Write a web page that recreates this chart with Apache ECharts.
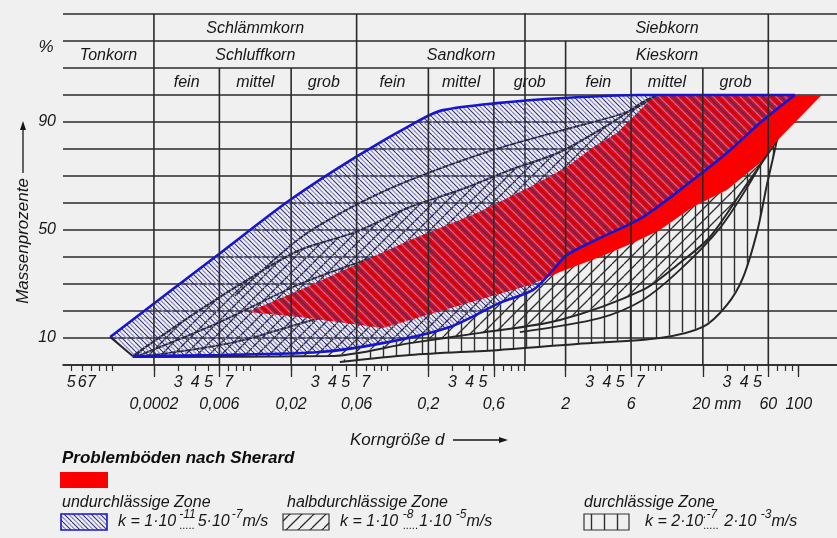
<!DOCTYPE html>
<html>
<head>
<meta charset="utf-8">
<title>Körnungsbereiche und Durchlässigkeit</title>
<script src="https://cdn.jsdelivr.net/npm/echarts@6/dist/echarts.min.js"></script>
<style>
html, body { margin: 0; padding: 0; background: #f0f0f0; }
#main { width: 837px; height: 538px; }
</style>
</head>
<body>
<div id="main"></div>
<script>
// Korngröße d in mm, Siebdurchgang in Massenprozent
const xMin = 0.000435, xMax = 190;

// undurchlässige Zone (blau umrandet)
const undUpperD = [0.00096, 0.0061, 0.0196, 0.059, 0.173, 0.255, 0.63, 1.94, 6.95, 93.7];
const undUpperP = [10.4, 41.5, 61.1, 77.0, 90.7, 94.4, 97.0, 98.9, 100, 100];
const undLowerD = [0.0014, 0.0061, 0.0324, 0.093, 0.287, 0.664, 1.16, 1.62, 2.04, 3.55, 7.31, 16.9, 29.9, 52.1, 93.7];
const undLowerP = [3.3, 3.7, 4.8, 8.1, 14.1, 23.0, 27.8, 35.2, 40.7, 47.0, 54.8, 68.5, 78.5, 89.6, 100];

// halbdurchlässige Zone
const halbUpperD = [0.0014, 0.00433, 0.01185, 0.0232, 0.0593, 0.1467, 0.339, 0.785, 1.82, 4.20, 7.31, 9.41];
const halbUpperP = [3.3, 20.4, 34.4, 42.6, 49.3, 58.5, 64.8, 72.2, 78.9, 89.3, 97.4, 100];
const halbLowerD = [0.0014, 0.0383, 0.147, 0.475, 1.82, 7.31, 13.6, 22.5, 39.1, 69.3, 102];
const halbLowerP = [3.0, 3.3, 8.1, 11.9, 16.7, 27.8, 37.8, 47.4, 64.8, 83.3, 100];

// weitere Sieblinien innerhalb der Zonen
const innerAD = [0.00158, 0.00605, 0.0232, 0.0887, 0.287];
const innerAP = [3.7, 15.9, 30.0, 40.7, 49.3];
const innerBD = [0.00172, 0.00779, 0.0324, 0.287];
const innerBP = [3.3, 8.5, 17.4, 27.8];
const innerCD = [0.928, 3.55, 7.31, 13.6, 26.6, 44.0, 65.9];
const innerCP = [12.2, 17.4, 24.1, 35.2, 50.7, 67.4, 83.3];
const innerDD = [0.00779, 0.0232, 0.0593, 0.1467, 0.587, 1.91, 5.59, 8.94];
const innerDP = [25.6, 47.0, 59.3, 68.5, 79.6, 87.0, 93.7, 99.3];

// durchlässige Zone
const durchUpperD = [0.0453, 0.124, 0.287, 0.664, 1.155, 1.82, 3.55, 6.18, 9.73, 16.9, 29.9, 52.1, 69.3, 110.8];
const durchUpperP = [1.5, 9.3, 14.1, 22.2, 28.5, 34.4, 40.0, 45.2, 50.0, 58.5, 64.8, 74.8, 83.0, 100];
const durchLowerD = [0.0453, 0.1467, 0.664, 2.416, 9.73, 20.0, 29.9, 39.1, 49.7, 58.6, 69.3, 79.1];
const durchLowerP = [1.1, 3.7, 5.6, 7.8, 10.0, 14.1, 22.2, 32.2, 49.3, 66.7, 83.3, 100];

// Problemböden nach Sherard (Umriss)
const sherardD = [0.0097, 0.0232, 0.147, 0.451, 1.10, 2.04, 3.18, 4.73, 8.23, 9.73, 147, 69.3, 52.1, 29.9, 16.9, 9.73, 6.18, 3.55, 1.82, 1.10, 0.093, 0.0232];
const sherardP = [19.6, 27.8, 46.3, 56.3, 65.9, 73.3, 80.7, 85.9, 98.1, 100, 100, 83.0, 74.8, 64.8, 58.5, 50.0, 45.2, 40.0, 34.4, 29.6, 13.7, 17.8];

// Achsbeschriftung
const sizeTicks = [0.002, 0.006, 0.02, 0.06, 0.2, 0.6, 2, 6, 20, 60, 100];
const sizeLabels = ['0,0002', '0,006', '0,02', '0,06', '0,2', '0,6', '2', '6', '20 mm', '60', '100'];
const digitTicks = [5e-4, 6e-4, 7e-4, 3e-3, 4e-3, 5e-3, 7e-3, 0.03, 0.04, 0.05, 0.07, 0.3, 0.4, 0.5, 3, 4, 5, 7, 30, 40, 50];
const digitLabels = ['5', '6', '7', '3', '4', '5', '7', '3', '4', '5', '7', '3', '4', '5', '3', '4', '5', '7', '3', '4', '5'];
const percentTicks = [10, 50, 90];

// Kopftabelle der Kornfraktionen: Beschriftung und Grenzen je Zeile (von oben)
const headerRow1 = ['', 'Schlämmkorn', 'Siebkorn', ''];
const headerRow1Edges = [xMin, 0.002, 0.06, 60, xMax];
const headerRow2 = ['Tonkorn', 'Schluffkorn', 'Sandkorn', 'Kieskorn', ''];
const headerRow2Edges = [xMin, 0.002, 0.06, 2, 60, xMax];
const headerRow3 = ['', 'fein', 'mittel', 'grob', 'fein', 'mittel', 'grob', 'fein', 'mittel', 'grob', ''];
const headerRow3Edges = [xMin, 0.002, 0.006, 0.02, 0.06, 0.2, 0.6, 2, 6, 20, 60, xMax];

const lg = Math.log10;
const FONT = '"Liberation Sans", Arial, sans-serif';
const INK = '#161616';
const GRID = '#2a2a2a';
const CURVE = '#262626';
const BLUE = '#1616d0';
const RED = '#fb0000';

function pattern(draw, w, h) {
  const c = document.createElement('canvas');
  c.width = w; c.height = h;
  draw(c.getContext('2d'), w, h);
  return { image: c, repeat: 'repeat' };
}
// dichte Schraffur "\\\" abwechselnd dunkel und hellblau
const undHatch = pattern((g, w) => {
  const s = w / 2;
  for (let k = -2; k <= 2; k++) {
    g.strokeStyle = (k & 1) ? '#8581d8' : '#33316f';
    g.lineWidth = 1.1;
    g.beginPath(); g.moveTo(k * s, 0); g.lineTo(k * s + w, w); g.stroke();
  }
}, 9, 9);
// Schraffur "///"
const halbHatch = pattern((g, w) => {
  g.strokeStyle = '#2e2e2e'; g.lineWidth = 1.3;
  for (let k = -1; k <= 1; k++) {
    g.beginPath(); g.moveTo(k * w, w); g.lineTo(k * w + w, 0); g.stroke();
  }
}, 12, 12);
// senkrechte Linien
const durchHatch = pattern((g, w, h) => {
  g.strokeStyle = '#2e2e2e'; g.lineWidth = 1.4;
  g.beginPath(); g.moveTo(w / 2, 0); g.lineTo(w / 2, h); g.stroke();
}, 13, 13);

const pairs = (ds, ps) => ds.map((d, i) => [lg(d), ps[i]]);

function zone(name, upD, upP, loD, loP, fill, z) {
  const pts = pairs(upD, upP).concat(pairs(loD, loP).reverse());
  return {
    type: 'custom', name, z, silent: true, data: [[0, 50]],
    renderItem: (params, api) => ({
      type: 'polygon',
      shape: { points: pts.map(p => api.coord(p)) },
      style: { fill }
    })
  };
}
function curve(name, ds, ps, color, width, z, smooth) {
  return {
    type: 'line', name, z, silent: true, data: pairs(ds, ps),
    showSymbol: false, symbol: 'none', smooth: smooth === undefined ? 0.3 : smooth,
    lineStyle: { color, width }, animation: false
  };
}

function labelFor(vals, labels) {
  return v => {
    const i = vals.findIndex(t => Math.abs(lg(t) - v) < 1e-6);
    if (i < 0) return '';
    return labels[i] === '20 mm' ? '{pad|}{t|20 mm}' : labels[i];
  };
}

const minorTicks = [];
for (let k = -4; k <= 2; k++) {
  for (let n = 1; n <= 9; n++) {
    const v = n * Math.pow(10, k);
    if (v > xMin && v < xMax) minorTicks.push(lg(v));
  }
}

const headerRows = [
  { names: headerRow1, edges: headerRow1Edges, bottom: 120 },
  { names: headerRow2, edges: headerRow2Edges, bottom: 110 },
  { names: headerRow3, edges: headerRow3Edges, bottom: 100 }
];

// Gitterlinien der Fraktionsgrenzen und Tabellenbeschriftung
const headerSeries = {
  type: 'custom', name: 'Kopf', z: 8, silent: true, data: [[0, 50]],
  renderItem: (params, api) => {
    const children = [];
    const tops = new Map();
    headerRows.forEach(row => {
      row.edges.slice(1, -1).forEach(e => {
        tops.set(e, Math.max(tops.get(e) || 0, row.bottom + 10));
      });
    });
    tops.forEach((top, e) => {
      const a = api.coord([lg(e), 0]);
      const b = api.coord([lg(e), top]);
      children.push({ type: 'line', shape: { x1: a[0], y1: a[1], x2: b[0], y2: b[1] },
        style: { stroke: GRID, lineWidth: 1.6 } });
    });
    const row2 = headerRows[1];
    headerRows.forEach(row => {
      row.names.forEach((name, i) => {
        if (!name) return;
        let a = row.edges[i], b = row.edges[i + 1];
        if (name === 'Siebkorn') {
          const j = row2.names.indexOf('Kieskorn');
          a = row2.edges[j]; b = row2.edges[j + 1];
        }
        const p = api.coord([(lg(a) + lg(b)) / 2, row.bottom + 5]);
        children.push({ type: 'text', x: p[0], y: p[1] + 1,
          style: { text: name, font: 'italic 16px ' + FONT, fill: INK, align: 'center', verticalAlign: 'middle' } });
      });
    });
    return { type: 'group', children };
  }
};

const axisFont = { fontStyle: 'italic', fontSize: 16, fontFamily: FONT, color: INK };

const option = {
  backgroundColor: '#f0f0f0',
  animation: false,
  grid: { left: 63, right: -4, top: 14, bottom: 173, containLabel: false },
  xAxis: [
    {
      type: 'value', min: lg(xMin), max: lg(xMax), position: 'bottom',
      axisLine: { show: true, onZero: false, lineStyle: { color: GRID, width: 1.6 } },
      splitLine: { show: false },
      axisTick: { show: true, customValues: minorTicks, length: 6, lineStyle: { color: GRID, width: 1.2 } },
      axisLabel: Object.assign({ customValues: digitTicks.map(lg), formatter: labelFor(digitTicks, digitLabels), margin: 10 }, axisFont)
    },
    {
      type: 'value', min: lg(xMin), max: lg(xMax), position: 'bottom',
      axisLine: { show: false, onZero: false },
      splitLine: { show: false },
      axisTick: { show: true, customValues: sizeTicks.map(lg), length: 12, lineStyle: { color: GRID, width: 1.3 } },
      axisLabel: Object.assign({
        customValues: sizeTicks.map(lg), formatter: labelFor(sizeTicks, sizeLabels), margin: 32,
        rich: {
          pad: { width: 28 },
          t: { fontStyle: 'italic', fontSize: 16, fontFamily: FONT, color: INK }
        }
      }, axisFont)
    }
  ],
  yAxis: {
    type: 'value', min: 0, max: 130, interval: 10,
    axisLine: { show: true, lineStyle: { color: GRID, width: 1.6 } },
    axisTick: { show: false },
    splitLine: { show: true, lineStyle: { color: GRID, width: 1.6 } },
    axisLabel: Object.assign({ customValues: percentTicks, margin: 7 }, axisFont)
  },
  series: [
    zone('halbdurchlässige Zone', halbUpperD, halbUpperP, halbLowerD, halbLowerP, halbHatch, 2),
    zone('durchlässige Zone', durchUpperD, durchUpperP, durchLowerD, durchLowerP, durchHatch, 2),
    curve('halb oben', halbUpperD, halbUpperP, CURVE, 2, 3),
    curve('halb unten', halbLowerD, halbLowerP, CURVE, 2, 3),
    curve('Sieblinie a', innerAD, innerAP, CURVE, 1.8, 3),
    curve('Sieblinie b', innerBD, innerBP, CURVE, 1.8, 3),
    curve('Sieblinie c', innerCD, innerCP, CURVE, 1.8, 3),
    curve('Sieblinie d', innerDD, innerDP, CURVE, 1.8, 3),
    curve('durch unten', durchLowerD, durchLowerP, CURVE, 2, 3),
    {
      type: 'custom', name: 'Problemböden nach Sherard', z: 4, silent: true, data: [[0, 50]],
      renderItem: (params, api) => ({
        type: 'polygon',
        shape: { points: pairs(sherardD, sherardP).map(p => api.coord(p)) },
        style: { fill: RED }
      })
    },
    zone('undurchlässige Zone', undUpperD, undUpperP, undLowerD, undLowerP, undHatch, 5),
    curve('und links', [undUpperD[0], undLowerD[0]], [undUpperP[0], undLowerP[0]], CURVE, 2, 6, 0),
    curve('und oben', undUpperD, undUpperP, BLUE, 2.6, 6),
    curve('und unten', undLowerD, undLowerP, BLUE, 2.6, 6),
    headerSeries
  ]
};
const chart = echarts.init(document.getElementById('main'));
chart.setOption(option);

// Beschriftungen außerhalb der Zeichenfläche und Legende
const measure = document.createElement('canvas').getContext('2d');
function kText(x, y, parts) {
  const els = [];
  let cx = x;
  parts.forEach(p => {
    const size = p.sup ? 12 : 16;
    const font = `italic ${size}px ${FONT}`;
    measure.font = font;
    const w = measure.measureText(p.t).width;
    els.push({ type: 'text', x: cx, y: p.sup ? y - 7 : y,
      style: { text: p.t, font, fill: INK, align: 'left', verticalAlign: 'middle' } });
    if (p.dots) {
      els.push({ type: 'text', x: cx, y: y + 4,
        style: { text: '.....', font: `11px ${FONT}`, fill: INK, align: 'left', verticalAlign: 'middle' } });
    }
    cx += w + (p.gap || 0);
  });
  return els;
}
const legendText = (x, y, text, bold) => ({ type: 'text', x, y,
  style: { text, font: bold ? `bold italic 17px ${FONT}` : `italic 16px ${FONT}`, fill: bold ? '#0c0c0c' : INK, align: 'left', verticalAlign: 'middle' } });

const graphics = [
  { type: 'text', x: 46, y: 47, style: { text: '%', font: `italic 17px ${FONT}`, fill: INK, align: 'center', verticalAlign: 'middle' } },
  { type: 'text', x: 23, y: 241, rotation: Math.PI / 2,
    style: { text: 'Massenprozente', font: `italic 17px ${FONT}`, fill: INK, align: 'center', verticalAlign: 'middle' } },
  { type: 'line', shape: { x1: 23, y1: 173, x2: 23, y2: 128 }, style: { stroke: INK, lineWidth: 1.3 } },
  { type: 'polygon', shape: { points: [[23, 121], [20, 130], [26, 130]] }, style: { fill: INK } },
  { type: 'text', x: 350, y: 440, style: { text: 'Korngröße d', font: `italic 17px ${FONT}`, fill: INK, align: 'left', verticalAlign: 'middle' } },
  { type: 'line', shape: { x1: 453, y1: 440, x2: 500, y2: 440 }, style: { stroke: INK, lineWidth: 1.3 } },
  { type: 'polygon', shape: { points: [[508, 440], [499, 437], [499, 443]] }, style: { fill: INK } },
  legendText(62, 458, 'Problemböden nach Sherard', true),
  { type: 'rect', shape: { x: 60, y: 472, width: 48, height: 16 }, style: { fill: RED } },
  legendText(62, 503, 'undurchlässige Zone'),
  { type: 'rect', shape: { x: 61, y: 514, width: 46, height: 16 }, style: { fill: undHatch, stroke: BLUE, lineWidth: 1.6 } },
  legendText(287, 503, 'halbdurchlässige Zone'),
  { type: 'rect', shape: { x: 283, y: 514, width: 46, height: 16 }, style: { fill: halbHatch, stroke: '#333', lineWidth: 1.2 } },
  legendText(584, 503, 'durchlässige Zone'),
  { type: 'rect', shape: { x: 584, y: 514, width: 45, height: 16 }, style: { fill: durchHatch, stroke: '#333', lineWidth: 1.2 } }
].concat(
  kText(118, 522, [{ t: 'k = 1·10', gap: 3 }, { t: '-11', sup: true, dots: true, gap: 2 }, { t: '5·10', gap: 2 }, { t: '-7', sup: true }, { t: 'm/s' }]),
  kText(340, 522, [{ t: 'k = 1·10 ' }, { t: '-8', sup: true, dots: true, gap: 6 }, { t: '1·10 ' }, { t: '-5', sup: true }, { t: 'm/s' }]),
  kText(645, 522, [{ t: 'k = 2·10' }, { t: '.-7', sup: true, dots: true, gap: 7 }, { t: '2·10 ' }, { t: '-3', sup: true }, { t: 'm/s' }])
);
chart.setOption({ graphic: { elements: graphics } });
</script>
</body>
</html>
